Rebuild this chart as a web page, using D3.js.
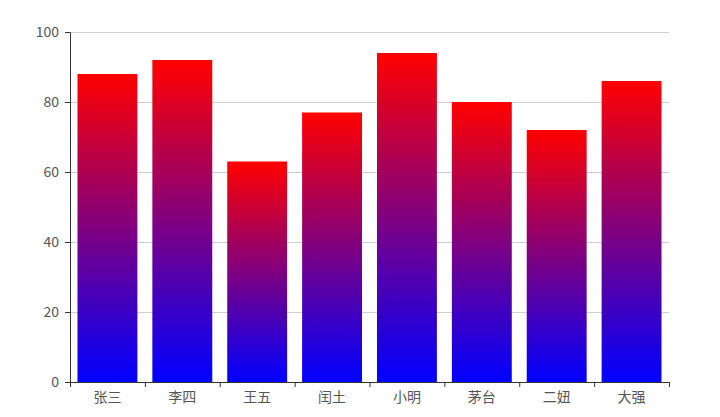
<!DOCTYPE html>
<html>
<head>
<meta charset="utf-8">
<script src="https://cdn.jsdelivr.net/npm/d3@7/dist/d3.min.js"></script>
<style>
  html, body { margin: 0; padding: 0; background: #fff; }
  svg text { font-family: "Noto Sans CJK SC", "Noto Sans", sans-serif; }
</style>
</head>
<body>
<svg id="chart" width="720" height="417"></svg>
<script>
"use strict";

const names = ["张三", "李四", "王五", "闰土", "小明", "茅台", "二妞", "大强"];
const scores = [88, 92, 63, 77, 94, 80, 72, 86];
const yTicks = [0, 20, 40, 60, 80, 100];

const margin = {top: 32, right: 51, bottom: 35, left: 70};
const width = 720 - margin.left - margin.right;
const height = 417 - margin.top - margin.bottom;

const svg = d3.select("svg#chart");

// gradient red at the top of each bar, blue at the bottom
const grad = svg.append("defs").append("linearGradient")
    .attr("id", "barGrad")
    .attr("x1", 0).attr("y1", 0).attr("x2", 0).attr("y2", 1);
grad.append("stop").attr("offset", "0%").attr("stop-color", "#ff0000");
grad.append("stop").attr("offset", "100%").attr("stop-color", "#0000ff");

const g = svg.append("g").attr("transform", `translate(${margin.left},${margin.top})`);

const xScale = d3.scaleBand().domain(names).range([0, width])
    .paddingInner(0.2).paddingOuter(0.1);
const xLabels = d3.scaleBand().domain(names).range([0, width]);
const yScale = d3.scaleLinear().domain([0, 100]).range([height, 0]);

// grid lines
g.append("g")
    .attr("class", "grid")
    .call(d3.axisLeft(yScale).tickValues(yTicks).tickSize(-width).tickFormat(""))
    .call(ax => ax.select(".domain").remove())
    .call(ax => ax.selectAll("line").attr("stroke", "#ccc"));

// bars
g.selectAll("rect.bar")
    .data(scores)
    .join("rect")
    .attr("class", "bar")
    .attr("x", (d, i) => xScale(names[i]))
    .attr("y", d => yScale(d))
    .attr("width", xScale.bandwidth())
    .attr("height", d => height - yScale(d))
    .attr("fill", "url(#barGrad)");

// y axis
g.append("g")
    .call(d3.axisLeft(yScale).tickValues(yTicks).tickSizeOuter(0).tickSize(5).tickPadding(6))
    .call(ax => ax.select(".domain").attr("stroke", "#333"))
    .call(ax => ax.selectAll(".tick line").attr("stroke", "#333"))
    .call(ax => ax.selectAll("text").attr("fill", "#555").style("font-size", "14px"));

// x axis: labels centred in bands, ticks on band boundaries
const xAxis = g.append("g")
    .attr("transform", `translate(0,${height})`)
    .call(d3.axisBottom(xLabels).tickSize(0).tickPadding(10))
    .call(ax => ax.select(".domain").attr("stroke", "#333"))
    .call(ax => ax.selectAll("text").attr("fill", "#555").style("font-size", "14px"));

const bounds = names.map(n => xLabels(n)).concat([width]);
xAxis.selectAll("line.boundary")
    .data(bounds)
    .join("line")
    .attr("class", "boundary")
    .attr("x1", d => d + 0.5).attr("x2", d => d + 0.5)
    .attr("y1", 0).attr("y2", 5)
    .attr("stroke", "#333");
</script>
</body>
</html>
